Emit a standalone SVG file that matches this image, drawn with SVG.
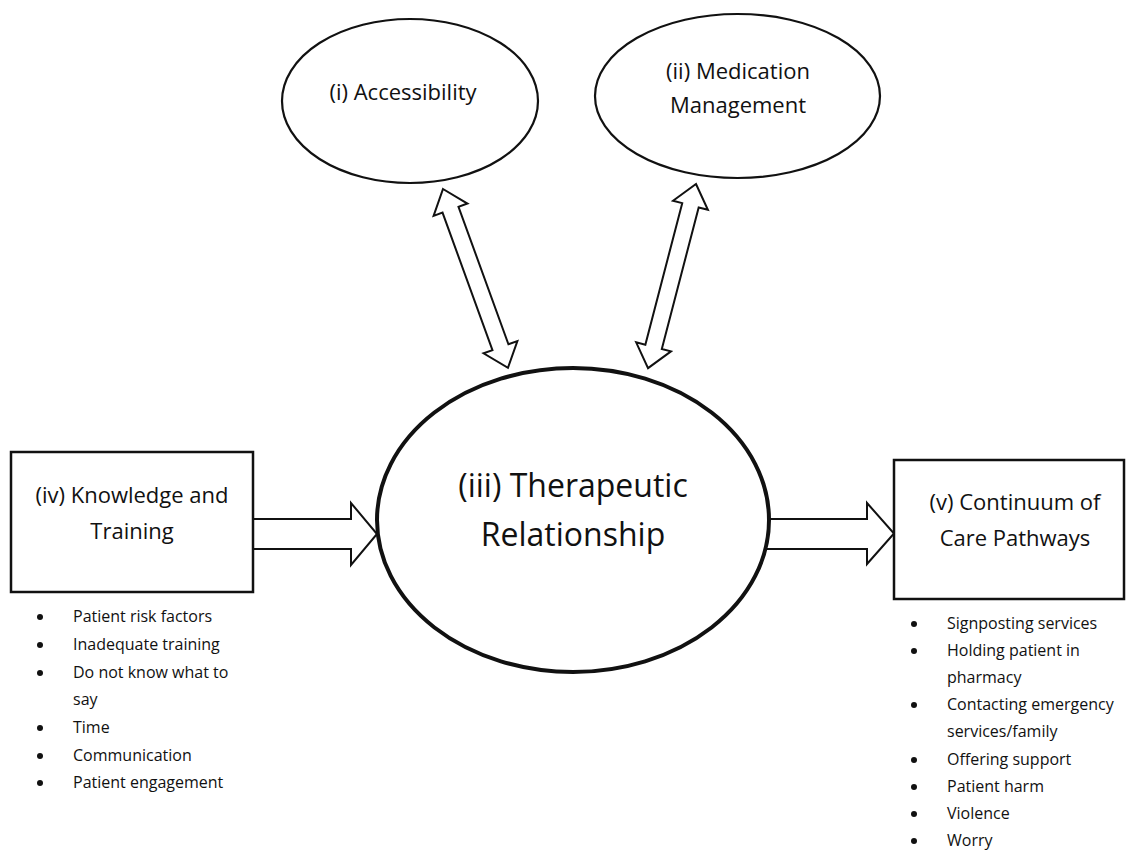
<svg xmlns="http://www.w3.org/2000/svg" width="1126" height="852" viewBox="0 0 1126 852">
<style>
  .bg { fill: #ffffff; }
  .oval { fill: #ffffff; stroke: #111111; stroke-width: 2.2; }
  .main { fill: #ffffff; stroke: #111111; stroke-width: 4; }
  .box { fill: #ffffff; stroke: #111111; stroke-width: 2.5; }
  .arrow { fill: #ffffff; stroke: #111111; stroke-width: 2; stroke-linejoin: miter; }
  .t { font-family: "Open Sans", "Liberation Sans", sans-serif; fill: #111111; }
  .lbl { font-size: 22px; text-anchor: middle; }
  .big { font-size: 32px; text-anchor: middle; }
  .item { font-size: 16px; }
  .dot { fill: #111111; }
</style>
<defs>
  <polygon id="dbl" points="0,0 22,-18 22,-8.5 168.3,-8.5 168.3,-18 190.3,0 168.3,18 168.3,8.5 22,8.5 22,18"/>
</defs>
<rect class="bg" x="0" y="0" width="1126" height="852"/>

<g id="connectors">
  <use href="#dbl" class="arrow" transform="translate(443,189) rotate(70.04)"/>
  <use href="#dbl" class="arrow" transform="translate(696,184) rotate(104.6)"/>
  <polygon class="arrow" points="253,519 351,519 351,503 377,534 351,565 351,549 253,549"/>
  <polygon class="arrow" points="760,519 867,519 867,503 894,533.5 867,564 867,549 760,549"/>
</g>

<g id="node-accessibility">
  <ellipse class="oval" cx="410" cy="101" rx="128" ry="82"/>
  <text class="t lbl" x="403" y="100">(i) Accessibility</text>
</g>

<g id="node-medication">
  <ellipse class="oval" cx="737.5" cy="96" rx="142.5" ry="82"/>
  <text class="t lbl" x="738" y="79">(ii) Medication</text>
  <text class="t lbl" x="738" y="113">Management</text>
</g>

<g id="node-therapeutic">
  <ellipse class="main" cx="573" cy="520" rx="196" ry="152"/>
  <text class="t big" x="573" y="497">(iii) Therapeutic</text>
  <text class="t big" x="573" y="546">Relationship</text>
</g>

<g id="node-knowledge">
  <rect class="box" x="11" y="452" width="242" height="140"/>
  <text class="t lbl" x="132" y="503">(iv) Knowledge and</text>
  <text class="t lbl" x="132" y="539">Training</text>
  <g class="t item">
    <circle class="dot" cx="40" cy="617" r="3"/><text x="73" y="622">Patient risk factors</text>
    <circle class="dot" cx="40" cy="645" r="3"/><text x="73" y="650">Inadequate training</text>
    <circle class="dot" cx="40" cy="673" r="3"/><text x="73" y="678">Do not know what to</text>
    <text x="73" y="705">say</text>
    <circle class="dot" cx="40" cy="728" r="3"/><text x="73" y="733">Time</text>
    <circle class="dot" cx="40" cy="756" r="3"/><text x="73" y="761">Communication</text>
    <circle class="dot" cx="40" cy="783" r="3"/><text x="73" y="788">Patient engagement</text>
  </g>
</g>

<g id="node-continuum">
  <rect class="box" x="894" y="460" width="230" height="139"/>
  <text class="t lbl" x="1015" y="510">(v) Continuum of</text>
  <text class="t lbl" x="1015" y="546">Care Pathways</text>
  <g class="t item">
    <circle class="dot" cx="914" cy="624" r="3"/><text x="947" y="629">Signposting services</text>
    <circle class="dot" cx="914" cy="651" r="3"/><text x="947" y="656">Holding patient in</text>
    <text x="947" y="683">pharmacy</text>
    <circle class="dot" cx="914" cy="705" r="3"/><text x="947" y="710">Contacting emergency</text>
    <text x="947" y="737">services/family</text>
    <circle class="dot" cx="914" cy="760" r="3"/><text x="947" y="765">Offering support</text>
    <circle class="dot" cx="914" cy="787" r="3"/><text x="947" y="792">Patient harm</text>
    <circle class="dot" cx="914" cy="814" r="3"/><text x="947" y="819">Violence</text>
    <circle class="dot" cx="914" cy="841" r="3"/><text x="947" y="846">Worry</text>
  </g>
</g>
</svg>
